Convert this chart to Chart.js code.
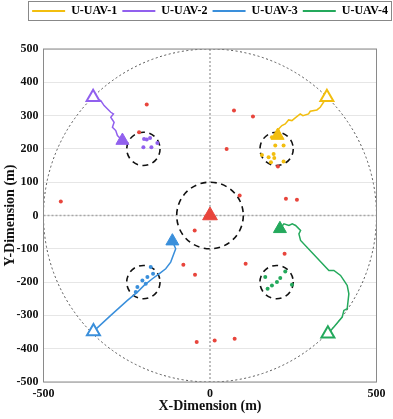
<!DOCTYPE html>
<html><head><meta charset="utf-8">
<script src="https://cdn.jsdelivr.net/npm/chart.js@4.4.1/dist/chart.umd.min.js"></script>
<style>html,body{margin:0;padding:0;background:#fff;}</style>
</head><body>
<canvas id="c" width="393" height="419" style="display:block;width:393px;height:419px"></canvas>
<script>
const seriesNames = ['U-UAV-1','U-UAV-2','U-UAV-3','U-UAV-4'];
const seriesColors = ['#F2BE0F','#9160EE','#3A8FDB','#24A95C'];
const redColor = '#E8453C';

// trajectories, start -> end
const traj1 = [[351,355],[331,325],[321,317],[301,313],[296,305],[279,300],[271,305],[256,293],[246,285],[236,287],[226,275],[216,270],[206,260],[210,248],[200,250],[203,240]];
const traj2 = [[-351,355],[-328,345],[-318,330],[-298,310],[-290,305],[-298,295],[-288,280],[-293,265],[-283,255],[-278,240],[-263,225]];
const traj3 = [[-350,-348],[-298,-300],[-248,-255],[-218,-230],[-198,-210],[-173,-190],[-153,-175],[-133,-160],[-118,-140],[-103,-100],[-113,-77]];
const traj4 = [[354,-355],[372,-335],[397,-305],[402,-285],[412,-280],[417,-235],[412,-210],[402,-195],[392,-180],[372,-165],[357,-165],[272,-75],[267,-55],[272,-45],[257,-30],[247,-25],[237,-30],[222,-25],[210,-40]];

// users inside each target area
const dots1 = [[186,235],[221,210],[196,210],[156,182],[176,175],[191,185],[193,173],[183,160],[221,162]];
const dots2 = [[-198,230],[-180,233],[-158,218],[-200,205],[-176,205],[-190,228]];
const dots3 = [[-178,-155],[-171,-175],[-188,-185],[-203,-195],[-193,-205],[-218,-215],[-223,-230]];
const dots4 = [[226,-168],[211,-188],[201,-200],[186,-210],[173,-220],[166,-185],[246,-208]];

const redDots = [[-448,42],[-190,333],[-213,250],[72,315],[129,297],[50,200],[204,147],[89,60],[228,50],[261,47],[-46,-45],[-80,-148],[-45,-178],[224,-115],[107,-145],[-40,-380],[14,-375],[74,-370]];
const baseStation = [[0,0]];

const xTicks = [-500,0,500];
const yTicks = [-500,-400,-300,-200,-100,0,100,200,300,400,500];

const circleX = [0,200,-200,-200,200];
const circleY = [0,200,200,-200,-200];
const circleR = [100,50,50,50,50];
const boundaryR = 500;

const trajs = [traj1,traj2,traj3,traj4];
const dots = [dots1,dots2,dots3,dots4];
const pts = a => a.map(p => ({x:p[0], y:p[1]}));
const FONT = "'Liberation Serif','Times New Roman',serif";

const datasets = [];
trajs.forEach((t,i) => datasets.push({label: seriesNames[i], data: pts(t), showLine: true, borderColor: seriesColors[i], backgroundColor: seriesColors[i], borderWidth: 1.5, pointRadius: 0, order: 5}));
dots.forEach((d,i) => datasets.push({label: seriesNames[i]+' users', data: pts(d), showLine: false, pointRadius: 2, pointBorderWidth: 0, backgroundColor: seriesColors[i], borderColor: seriesColors[i], order: 4}));
datasets.push({label: 'start', data: pts(trajs.map(t => t[0])), showLine: false, pointStyle: 'triangle', pointRadius: 7.5, pointBorderWidth: 2, pointBackgroundColor: '#fff', pointBorderColor: seriesColors, order: 1});
datasets.push({label: 'end', data: pts(trajs.map(t => t[t.length-1])), showLine: false, pointStyle: 'triangle', pointRadius: 7.5, pointBorderWidth: 1, pointBackgroundColor: seriesColors, pointBorderColor: seriesColors, order: 1});
datasets.push({label: 'ground users', data: pts(redDots), showLine: false, pointRadius: 2, pointBorderWidth: 0, backgroundColor: redColor, borderColor: redColor, order: 3});
datasets.push({label: 'base', data: pts(baseStation), showLine: false, pointStyle: 'triangle', pointRadius: 8.5, pointBorderWidth: 1, backgroundColor: redColor, borderColor: redColor, order: 1});

const decor = {
  id: 'decor',
  beforeDatasetsDraw(chart) {
    const {ctx, chartArea: a, scales: {x, y}} = chart;
    ctx.save();
    ctx.beginPath(); ctx.rect(a.left, a.top, a.width, a.height); ctx.clip();
    const x0 = x.getPixelForValue(0), y0 = y.getPixelForValue(0);
    ctx.setLineDash([2,2]); ctx.strokeStyle = '#a8a8a8'; ctx.lineWidth = 1.5;
    ctx.beginPath(); ctx.moveTo(x0, a.top); ctx.lineTo(x0, a.bottom); ctx.moveTo(a.left, y0); ctx.lineTo(a.right, y0); ctx.stroke();
    const ell = (cx, cy, r) => {
      const px = x.getPixelForValue(cx), py = y.getPixelForValue(cy);
      const rx = Math.abs(x.getPixelForValue(cx + r) - px), ry = Math.abs(y.getPixelForValue(cy + r) - py);
      ctx.beginPath(); ctx.ellipse(px, py, rx, ry, 0, 0, Math.PI*2); ctx.stroke();
    };
    ctx.setLineDash([2,2.5]); ctx.strokeStyle = '#555'; ctx.lineWidth = 1;
    ell(0, 0, boundaryR);
    ctx.setLineDash([6,4.5]); ctx.strokeStyle = '#111'; ctx.lineWidth = 1.6;
    circleX.forEach((cx,i) => ell(cx, circleY[i], circleR[i]));
    ctx.restore();
  },
  afterDraw(chart) {
    const {ctx, chartArea: a} = chart;
    ctx.save();
    ctx.strokeStyle = '#8a8a8a'; ctx.lineWidth = 1;
    ctx.strokeRect(a.left, a.top, a.width, a.height);
    const hb = chart.legend.legendHitBoxes;
    const l = Math.min(...hb.map(h => h.left)), r = Math.max(...hb.map(h => h.left + h.width));
    ctx.strokeStyle = '#888';
    ctx.strokeRect(Math.round(l) - 3.5, Math.round(hb[0].top) - 3.5, Math.round(r - l) + 7, hb[0].height + 7);
    ctx.restore();
  }
};

new Chart(document.getElementById('c'), {
  type: 'scatter',
  data: {datasets},
  plugins: [decor],
  options: {
    responsive: false,
    animation: false,
    devicePixelRatio: 1,
    layout: {padding: {top: 0, left: 0, right: 0, bottom: 0}},
    plugins: {
      tooltip: {enabled: false},
      legend: {
        position: 'top', align: 'end',
        labels: {
          boxWidth: 33, boxHeight: 2, padding: 5, color: '#000',
          font: {family: FONT, size: 12, weight: 'bold'},
          filter: item => item.datasetIndex < 4,
          generateLabels: chart => seriesNames.map((n,i) => ({text: n, fillStyle: seriesColors[i], strokeStyle: seriesColors[i], lineWidth: 0, datasetIndex: i, hidden: false}))
        }
      }
    },
    scales: {
      x: {
        type: 'linear', position: 'bottom', min: -500, max: 500,
        afterBuildTicks: s => { s.ticks = xTicks.map(v => ({value: v})); },
        grid: {display: false, drawTicks: false},
        border: {display: false},
        ticks: {padding: 5, color: '#111', font: {family: FONT, size: 12, weight: 'bold'}},
        title: {display: true, text: 'X-Dimension (m)', color: '#111', padding: {top: 2, bottom: 4}, font: {family: FONT, size: 14, weight: 'bold'}},
        afterFit: s => { s.height = 37; }
      },
      y: {
        type: 'linear', position: 'left', min: -500, max: 500,
        afterBuildTicks: s => { s.ticks = yTicks.map(v => ({value: v})); },
        grid: {color: '#e6e6e6', lineWidth: 1, drawTicks: false},
        border: {display: false},
        ticks: {padding: 5, color: '#111', font: {family: FONT, size: 12, weight: 'bold'}},
        title: {display: true, text: 'Y-Dimension (m)', color: '#111', padding: {top: 2, bottom: 2}, font: {family: FONT, size: 14, weight: 'bold'}},
        afterFit: s => { s.width = 43.5; }
      },
      xTop: {
        type: 'linear', position: 'top', display: true,
        grid: {display: false, drawTicks: false}, border: {display: false}, ticks: {display: false},
        afterFit: s => { s.height = 22; }
      },
      yRight: {
        type: 'linear', position: 'right', display: true,
        grid: {display: false, drawTicks: false}, border: {display: false}, ticks: {display: false},
        afterFit: s => { s.width = 16.5; }
      }
    }
  }
});
</script>
</body></html>
